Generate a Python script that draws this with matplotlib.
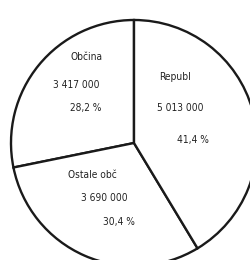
import matplotlib

matplotlib.use("Agg")
import matplotlib.pyplot as plt

labels = ["Občina", "Ostale obč", "Republ"]
values = [3417000, 3690000, 5013000]
shares = ["28,2 %", "30,4 %", "41,4 %"]
amounts = ["3 417 000", "3 690 000", "5 013 000"]

# text anchor points in pixel coords (x, y from top): name, amount, share
text_spots = [
    [(87, 57), (76, 85), (86, 108)],
    [(92, 175), (104, 198), (119, 222)],
    [(175, 77), (180, 108), (193, 140)],
]

fig = plt.figure(figsize=(2.5, 2.6), dpi=100)
ax = fig.add_axes([0, 0, 1, 1])
ax.pie(
    values,
    startangle=90,
    counterclock=True,
    center=(134, 117),
    radius=123,
    colors=["white"] * 3,
    wedgeprops=dict(edgecolor="#1a1a1a", linewidth=1.7),
)
for name, amount, share, spots in zip(labels, amounts, shares, text_spots):
    for txt, (px, py) in zip((name, amount, share), spots):
        ax.text(px, 260 - py, txt, ha="center", va="center",
                fontsize=7.3, color="#222222", family="DejaVu Sans",
                stretch="condensed")
ax.set_xlim(0, 250)
ax.set_ylim(0, 260)
ax.set_aspect("equal")
ax.axis("off")
fig.savefig("out.png", dpi=100, facecolor="white")
